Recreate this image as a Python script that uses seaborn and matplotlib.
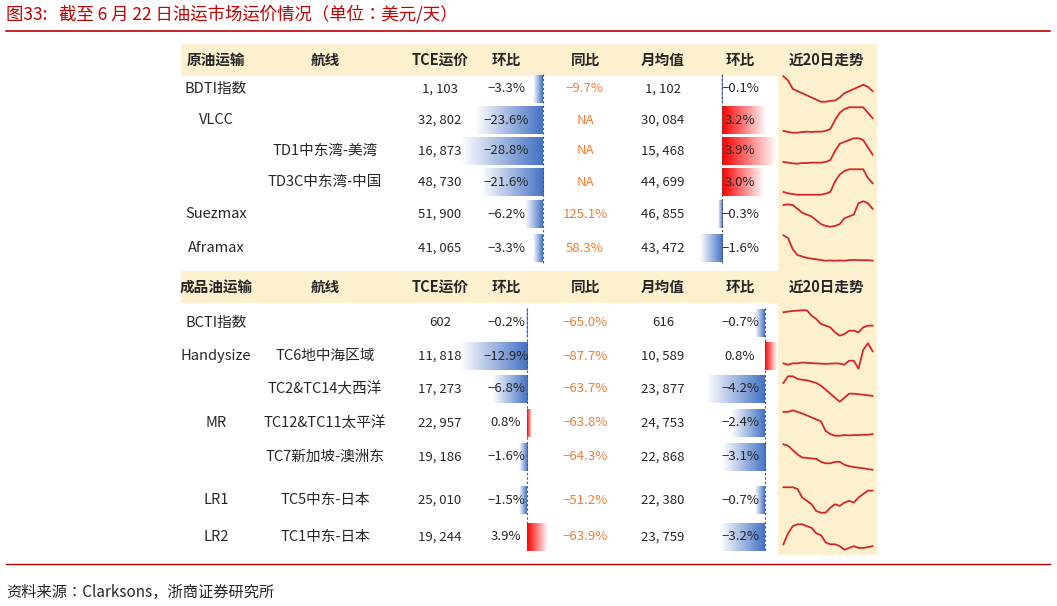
import numpy as np
import pandas as pd
import matplotlib
matplotlib.use("Agg")
import matplotlib.pyplot as plt
from matplotlib import font_manager
import seaborn as sns
from matplotlib.colors import LinearSegmentedColormap

_avail = {f.name for f in font_manager.fontManager.ttflist}
_cjk = [n for n in ["Noto Sans CJK SC", "Noto Sans CJK JP", "Noto Sans CJK TC", "Noto Sans CJK KR"] if n in _avail]
FONTS = _cjk + ["DejaVu Sans"]
plt.rcParams["font.family"] = "sans-serif"
plt.rcParams["font.sans-serif"] = FONTS
nan = np.nan

# ---------------- data ----------------
headers1 = ["原油运输", "航线", "TCE运价", "环比", "同比", "月均值", "环比", "近20日走势"]
headers2 = ["成品油运输", "航线", "TCE运价", "环比", "同比", "月均值", "环比", "近20日走势"]

cat1 = ["BDTI指数", "VLCC", "", "", "Suezmax", "Aframax"]
route1 = ["", "", "TD1中东湾-美湾", "TD3C中东湾-中国", "", ""]
tce1 = [1103, 32802, 16873, 48730, 51900, 41065]
mom1 = [-3.3, -23.6, -28.8, -21.6, -6.2, -3.3]
yoy1 = ["-9.7%", "NA", "NA", "NA", "125.1%", "58.3%"]
avg1 = [1102, 30084, 15468, 44699, 46855, 43472]
avgmom1 = [-0.1, 3.2, 3.9, 3.0, -0.3, -1.6]

cat2 = ["BCTI指数", "Handysize", "", "MR", "", "LR1", "LR2"]
route2 = ["", "TC6地中海区域", "TC2&TC14大西洋", "TC12&TC11太平洋", "TC7新加坡-澳洲东", "TC5中东-日本", "TC1中东-日本"]
tce2 = [602, 11818, 17273, 22957, 19186, 25010, 19244]
mom2 = [-0.2, -12.9, -6.8, 0.8, -1.6, -1.5, 3.9]
yoy2 = ["-65.0%", "-87.7%", "-63.7%", "-63.8%", "-64.3%", "-51.2%", "-63.9%"]
avg2 = [616, 10589, 23877, 24753, 22868, 22380, 23759]
avgmom2 = [-0.7, 0.8, -4.2, -2.4, -3.1, -0.7, -3.2]

spark1 = [
    [9, 8, 6, 5.5, 5, 4.5, 4, 3.5, 3, 3, 3.2, 3.3, 4, 5, 5.5, 6, 6.5, 7, 6.5, 5.5],
    [2, 1.7, 1.5, 1.5, 1.7, 1.8, 1.7, 1.8, 1.8, 2, 2.5, 5, 7, 8, 8.5, 8.5, 8.5, 8.5, 7, 5.5],
    [2, 1.8, 1.6, 1.5, 1.7, 1.7, 1.8, 1.8, 1.8, 2, 2.5, 5, 7, 7.5, 8, 8.5, 8.5, 8, 6, 4],
    [2, 1.6, 1.4, 1.2, 1.2, 1.2, 1.2, 1.2, 1.2, 1.5, 2, 5, 7, 8, 8.5, 8.5, 8.5, 8.5, 6, 4.5],
    [7, 7.2, 7, 6, 5, 4.5, 4, 3, 2, 1.5, 1.3, 1.5, 2, 3.5, 4, 4.5, 7.5, 8, 7.5, 6],
    [9, 8, 4, 2, 1.5, 1, nan, nan, nan, 0, 0.1, 0, 0.1, 0, 0.2, 0.3, 0.2, 0.2, 0.2, 0],
]
spark2 = [
    [8, 8.2, 8.4, 8.5, 8.6, 8.6, 7, 6, 4.5, 4, 3.5, 2, 1, 1.5, 2.5, 2.5, 2, 3.5, 4, 4],
    [1, 0.5, 1, 1, 1.3, 1.2, 1.1, 1, 0.9, 0.8, 0.9, 1, 0.9, 0.5, 2, 2, -1, 6, 8.5, 5.5],
    [6, 8.5, 8.5, 7.5, 7.2, 7, 6.5, 6, 5, 3.5, 2, 0.5, -1, 0.5, 2, 2, 1.8, 1.6, 1.4, 1.2],
    [8, 8, 8.5, 8, 7.5, nan, nan, nan, 5, 2, 1, 0.5, 0.5, 0.7, 0.6, 0.7, 0.7, 0.8, 0.8, 1],
    [9, 8.5, 7, 5.5, 4.5, nan, nan, 4, 3, 2.5, 2.5, 3, 3, 2, 1.5, 1.2, 1, 0.8, 0.5, 0.3],
    [8, 8, 8, 7.5, 5, 4, 3, 1, 0.5, 0.5, 2, 3, 2.5, 3.5, 4, 3.5, 5, 6, 7, 7],
    [2, 5, 7, 7.5, 7.5, 7, 6.5, 5, 4.5, 2.5, 2, 2, 1.5, 0.5, 1, 1.5, 1, 1, 1.2, 1.5],
]

# ---------------- layout ----------------
W, H = 1057, 606
fig = plt.figure(figsize=(W / 100, H / 100), dpi=100)
ax = fig.add_axes([0, 0, 1, 1])
ax.set_xlim(0, W)
ax.set_ylim(H, 0)
ax.axis("off")

TITLE_RED = "#C00000"
YEL = "#FDF0CF"
TXT = "#262626"
ORANGE = "#ED7D31"
colx = [216, 325, 440, 506, 585, 663, 740, 827]
tx0, tx1 = 181, 877
rows1 = [89, 120, 151, 182, 214, 248]
rows2 = [323, 356, 389, 423, 457, 500, 537]
h1y, h2y = 59.5, 287
rowh = 30


def T(x, y, s, **kw):
    kw.setdefault("fontfamily", FONTS)
    return ax.text(x, y, s, **kw)


T(6, 14, "图33:   截至 6 月 22 日油运市场运价情况（单位：美元/天）", color=TITLE_RED,
  fontsize=12.5, va="center", ha="left")
ax.plot([6, 1050], [31, 31], color=TITLE_RED, lw=1.2)
ax.plot([6, 1050], [564, 564], color=TITLE_RED, lw=1.0)
T(6, 592, "资料来源：Clarksons，浙商证券研究所", color=TXT, fontsize=11, va="center")

ax.add_patch(plt.Rectangle((778, 44), tx1 - 778, 555 - 44, color=YEL, lw=0, zorder=0))
for hy, hdr in [(h1y, headers1), (h2y, headers2)]:
    ax.add_patch(plt.Rectangle((tx0, hy - 16), tx1 - tx0, 32, color=YEL, lw=0, zorder=0))
    for x, t in zip(colx, hdr):
        T(x, hy, t, ha="center", va="center", fontsize=10.5, fontweight="bold", color=TXT)

blue_cm = LinearSegmentedColormap.from_list("b", ["#FFFFFF", "#4472C4"])
red_cm = LinearSegmentedColormap.from_list("r", ["#FFFFFF", "#FF0000"])


def gbar(axis_x, val, scale, y):
    length = val * scale
    grad = np.linspace(0, 1, 100).reshape(1, -1)
    if val < 0:
        x0, x1 = axis_x + length, axis_x
        img, cm = grad, blue_cm
    else:
        x0, x1 = axis_x, axis_x + length
        img, cm = grad[:, ::-1], red_cm
    ax.imshow(img, cmap=cm, extent=(x0, x1, y + rowh / 2 - 1, y - rowh / 2 + 1),
              aspect="auto", zorder=1, vmin=0, vmax=1)


def fmt(v):
    return f"{v:,}".replace(",", ", ")


def pct(v):
    return f"{v:.1f}%".replace("-", "−")


def section(rows, cats, routes, tce, mom, yoy, avg, amom, sparks, mom_axis, mom_scale, am_axis, am_scale):
    for i, y in enumerate(rows):
        gbar(mom_axis, mom[i], mom_scale, y)
        gbar(am_axis, amom[i], am_scale, y)
        T(colx[0], y, cats[i], ha="center", va="center", fontsize=10.5, color=TXT)
        T(colx[1], y, routes[i], ha="center", va="center", fontsize=10.5, color=TXT)
        T(colx[2], y, fmt(tce[i]), ha="center", va="center", fontsize=9.5, color=TXT, zorder=3)
        T(colx[3], y, pct(mom[i]), ha="center", va="center", fontsize=9.5, color=TXT, zorder=3)
        T(colx[4], y, yoy[i].replace("-", "−"), ha="center", va="center", fontsize=9.5, color=ORANGE)
        T(colx[5], y, fmt(avg[i]), ha="center", va="center", fontsize=9.5, color=TXT)
        T(colx[6], y, pct(amom[i]), ha="center", va="center", fontsize=9.5, color=TXT, zorder=3)
        sax = fig.add_axes([782 / W, 1 - (y + 14) / H, 92 / W, 28 / H])
        df = pd.DataFrame({"d": np.arange(len(sparks[i])), "v": sparks[i]})
        sns.lineplot(data=df, x="d", y="v", ax=sax, color="#D62728", lw=1.3)
        sax.set_xlim(-0.3, len(sparks[i]) - 0.7)
        sax.axis("off")
    top, bot = rows[0] - rowh / 2, rows[-1] + rowh / 2
    ax.plot([am_axis, am_axis], [top, bot], color="#555555", lw=0.8, ls=(0, (2, 2)), zorder=2)
    ax.plot([mom_axis, mom_axis], [top, bot], color="#555555", lw=0.8, ls=(0, (2, 2)), zorder=2)


section(rows1, cat1, route1, tce1, mom1, yoy1, avg1, avgmom1, spark1, 543, 2.88, 722, 14)
section(rows2, cat2, route2, tce2, mom2, yoy2, avg2, avgmom2, spark2, 527, 5.2, 765, 14)

fig.savefig("out.png", dpi=100)
